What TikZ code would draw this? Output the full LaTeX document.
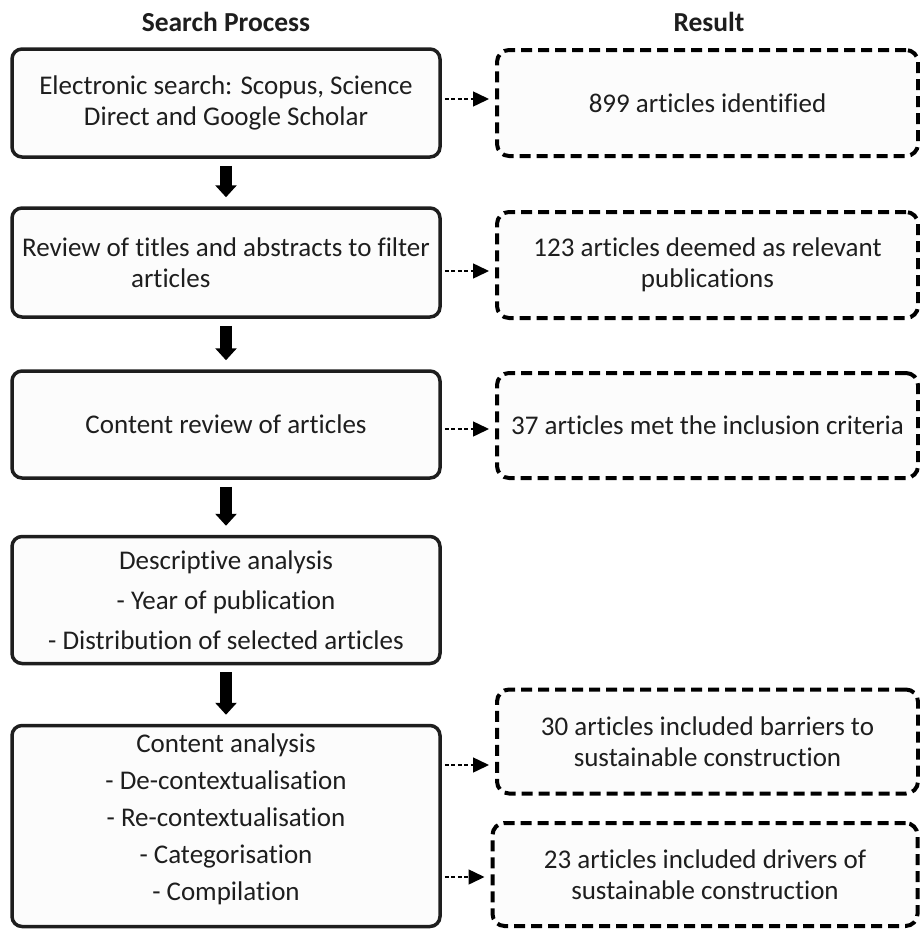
\documentclass[tikz,border=0pt]{standalone}
\usepackage{fontspec}
\setmainfont{Carlito}[Ligatures={NoCommon}]
\usetikzlibrary{arrows.meta}
\definecolor{boxfill}{HTML}{FCFCFC}
\definecolor{ink}{HTML}{1E1E1E}
\tikzset{
  basefont/.style={font=\fontsize{27}{31}\selectfont},
  procbox/.style={draw=ink, line width=3.5pt, rounded corners=10pt, fill=boxfill,
    minimum width=428pt, align=center, inner sep=0pt, text=ink, basefont},
  resbox/.style={draw=black, line width=4pt, dash pattern=on 11pt off 6pt,
    rounded corners=12pt, fill=boxfill, minimum width=421pt, align=center,
    inner sep=0pt, text=ink, basefont},
  txt/.style={align=center, inner sep=0pt, text=ink},
  flowarrow/.style={line width=12pt, black, -{Triangle[length=12pt,width=21pt]},
    shorten <=7pt, shorten >=9pt},
  resarrow/.style={line width=1.5pt, black, dash pattern=on 4pt off 2.5pt,
    -{Triangle[length=16pt,width=15pt]}, shorten <=3pt, shorten >=6pt},
  headtext/.style={font=\fontsize{27.5}{31}\selectfont\bfseries, text=ink, inner sep=0pt},
}
\begin{document}
\begin{tikzpicture}[x=1pt,y=-1pt]
\useasboundingbox (0,0) rectangle (920,929);
% headers
\node[headtext] (hs) at (226,22) {Search Process};
\node[headtext] (hr) at (709,22) {Result};
% process boxes
\node[procbox, minimum height=108pt] (B1) at (226,103)
  {Electronic search: Scopus, Science\\Direct and Google Scholar};
\node[procbox, minimum height=109pt, align=left] (B2) at (226,262.5)
  {Review of titles and abstracts to filter\\\hspace*{109pt}articles};
\node[procbox, minimum height=107pt] (B3) at (226,424.5)
  {Content review of articles};
\node[procbox, minimum height=127pt, font=\fontsize{27}{40}\selectfont] (B4) at (226,600)
  {Descriptive analysis\\- Year of publication\\- Distribution of selected articles};
\node[procbox, minimum height=201pt] (B5) at (226,826) {};
\node[txt, font=\fontsize{27}{37}\selectfont] (B5t) at (226,819)
  {Content analysis\\- De-contextualisation\\- Re-contextualisation\\- Categorisation\\- Compilation};
% result boxes
\node[resbox, minimum height=106pt] (R1) at (707.5,103) {899 articles identified};
\node[resbox, minimum height=106pt] (R2) at (707.5,265)
  {123 articles deemed as relevant\\publications};
\node[resbox, minimum height=105pt] (R3) at (707.5,425.5)
  {37 articles met the inclusion criteria};
\node[resbox, minimum height=104pt] (R4) at (707.5,741.5)
  {30 articles included barriers to\\sustainable construction};
\node[resbox, minimum height=103pt, minimum width=425pt] (R5) at (705,874.5)
  {23 articles included drivers of\\sustainable construction};
% flow arrows
\draw[flowarrow] (B1.south) -- (B2.north);
\draw[flowarrow] (B2.south) -- (B3.north);
\draw[flowarrow] (B3.south) -- (B4.north);
\draw[flowarrow] (B4.south) -- (B5.north);
% result arrows
\draw[resarrow] ([yshift=4pt]R1.west -| B1.east) -- ([yshift=4pt]R1.west);
\draw[resarrow] ([yshift=-6pt]R2.west -| B2.east) -- ([yshift=-6pt]R2.west);
\draw[resarrow] ([yshift=-3.5pt]R3.west -| B3.east) -- ([yshift=-3.5pt]R3.west);
\draw[resarrow] ([yshift=-23.5pt]R4.west -| B5.east) -- ([yshift=-23.5pt]R4.west);
\draw[resarrow] ([yshift=-2.5pt]R5.west -| B5.east) -- ([yshift=-2.5pt]R5.west);
\end{tikzpicture}
\end{document}
